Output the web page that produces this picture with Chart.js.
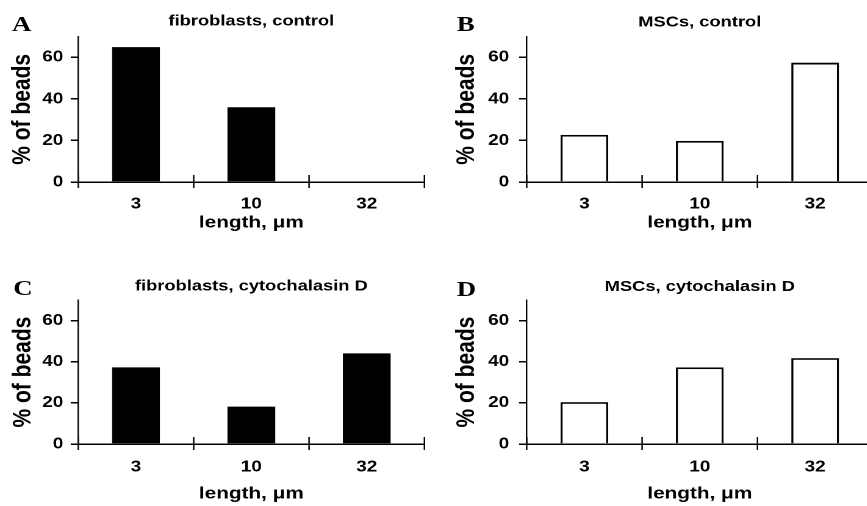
<!DOCTYPE html>
<html>
<head>
<meta charset="utf-8">
<script src="https://cdn.jsdelivr.net/npm/chart.js@4"></script>
<style>
  html, body { margin: 0; padding: 0; background: #fff; overflow: hidden; width: 867px; height: 506px; }
  /* the reference is stretched horizontally, so the whole page is drawn narrow and scaled */
  #page { position: absolute; left: 0; top: 0; width: 740px; height: 506px; transform-origin: 0 0; }
  #page canvas { position: absolute; }
  .letter { position: absolute; font: bold 22px "Liberation Serif", "Times New Roman", serif; line-height: 22px; color: #000; }
</style>
</head>
<body>
<div id="page"></div>
<script>
const lengths = ['3', '10', '32'];
const yTicks = [0, 20, 40, 60];
const fibroControl = [65, 36, 0];
const mscControl = [22.7, 19.8, 57.5];
const fibroCyto = [37.3, 18.2, 44.1];
const mscCyto = [20.4, 37.3, 41.8];

const S = 1.22;
const W = 440;
const page = document.getElementById('page');
page.style.transform = 'scaleX(' + S + ')';

Chart.defaults.font.family = '"Liberation Sans", Arial, sans-serif';
Chart.defaults.color = '#000';

// ticks on the category boundaries, crossing the x axis
const crossTicks = {
    id: 'crossTicks',
    afterDraw(chart) {
        const x = chart.scales.x;
        const ctx = chart.ctx;
        ctx.save();
        ctx.strokeStyle = '#000';
        ctx.lineWidth = 1.5 / S;
        for (let k = 0; k <= lengths.length; k++) {
            const px = x.getPixelForValue(k - 0.5);
            ctx.beginPath();
            ctx.moveTo(px, x.top - 7);
            ctx.lineTo(px, x.top + 6);
            ctx.stroke();
        }
        ctx.restore();
    }
};

const panels = [
    { letter: 'A', lx: 12, lb: 31.7, title: 'fibroblasts, control', values: fibroControl, filled: true,
      x0: 0, y0: 0, h: 250, left: 78.3, right: 424, top: 36.7, bottom: 182,
      titleY: 21.5, yTitleX: 23, yTickPad: 7.4, xTickPad: 12.7, xTitleY: 223 },
    { letter: 'B', lx: 456.7, lb: 31.7, title: 'MSCs, control', values: mscControl, filled: false,
      x0: 440, y0: 0, h: 250, left: 86.3, right: 432, top: 36.7, bottom: 182,
      titleY: 22.5, yTitleX: 26.7, yTickPad: 10, xTickPad: 12.7, xTitleY: 223 },
    { letter: 'C', lx: 13.3, lb: 295, title: 'fibroblasts, cytochalasin D', values: fibroCyto, filled: true,
      x0: 0, y0: 250, h: 256, left: 78.3, right: 424, top: 50.2, bottom: 194,
      titleY: 36.2, yTitleX: 23.3, yTickPad: 7.4, xTickPad: 14, xTitleY: 244 },
    { letter: 'D', lx: 456.7, lb: 296.7, title: 'MSCs, cytochalasin D', values: mscCyto, filled: false,
      x0: 440, y0: 250, h: 256, left: 86.3, right: 432, top: 50.2, bottom: 194,
      titleY: 36.7, yTitleX: 26.7, yTickPad: 10, xTickPad: 14, xTitleY: 244 }
];

panels.forEach(p => {
    const letter = document.createElement('div');
    letter.className = 'letter';
    letter.textContent = p.letter;
    letter.style.left = (p.lx / S) + 'px';
    letter.style.top = (p.lb - 18.4) + 'px';
    page.appendChild(letter);

    const canvas = document.createElement('canvas');
    canvas.width = Math.round(W / S);
    canvas.height = p.h;
    canvas.style.left = (p.x0 / S) + 'px';
    canvas.style.top = p.y0 + 'px';
    page.appendChild(canvas);

    const titleSize = 15;
    const titleTop = p.titleY - titleSize * 0.6;
    const xTitleSize = 17;
    const yTitleSize = 21;

    new Chart(canvas.getContext('2d'), {
        type: 'bar',
        data: {
            labels: lengths,
            datasets: [{
                data: p.values,
                backgroundColor: p.filled ? '#000' : '#fff',
                borderColor: '#000',
                borderWidth: p.filled ? 0 : 1.8,
                borderSkipped: 'start',
                categoryPercentage: 1,
                barPercentage: 0.414
            }]
        },
        plugins: [crossTicks],
        options: {
            responsive: false,
            animation: false,
            devicePixelRatio: 2,
            layout: { padding: { left: 0, top: 0, bottom: 0, right: (W - p.right) / S } },
            plugins: {
                legend: { display: false },
                tooltip: { enabled: false },
                title: {
                    display: true,
                    text: p.title,
                    fullSize: false,
                    color: '#000',
                    font: { size: titleSize, weight: 'bold' },
                    padding: { top: titleTop, bottom: p.top - titleTop - titleSize * 1.2 }
                }
            },
            scales: {
                x: {
                    grid: { display: false, drawTicks: false, tickLength: 0 },
                    border: { display: true, color: '#000', width: 1.5 },
                    ticks: { color: '#000', font: { size: 15.5, weight: 'bold' }, padding: p.xTickPad },
                    title: {
                        display: true,
                        text: 'length, μm',
                        color: '#000',
                        font: { size: xTitleSize, weight: 'bold' },
                        padding: { top: 0, bottom: p.h - p.xTitleY - xTitleSize * 0.6 }
                    },
                    afterFit: s => { s.height = p.h - p.bottom; }
                },
                y: {
                    min: 0,
                    max: 70,
                    afterBuildTicks: s => { s.ticks = yTicks.map(v => ({ value: v })); },
                    grid: { drawOnChartArea: false, drawTicks: true, tickLength: 7.6 / S, color: '#000', lineWidth: 1.5 },
                    border: { display: true, color: '#000', width: 1.5 / S },
                    ticks: { color: '#000', font: { size: 15.5, weight: 'bold' }, padding: p.yTickPad / S },
                    title: {
                        display: true,
                        text: '% of beads',
                        color: '#000',
                        font: { size: yTitleSize, weight: 'bold' },
                        padding: { top: p.yTitleX / S - yTitleSize * 0.6, bottom: 0 }
                    },
                    afterFit: s => { s.width = p.left / S; }
                }
            }
        }
    });
});
</script>
</body>
</html>
